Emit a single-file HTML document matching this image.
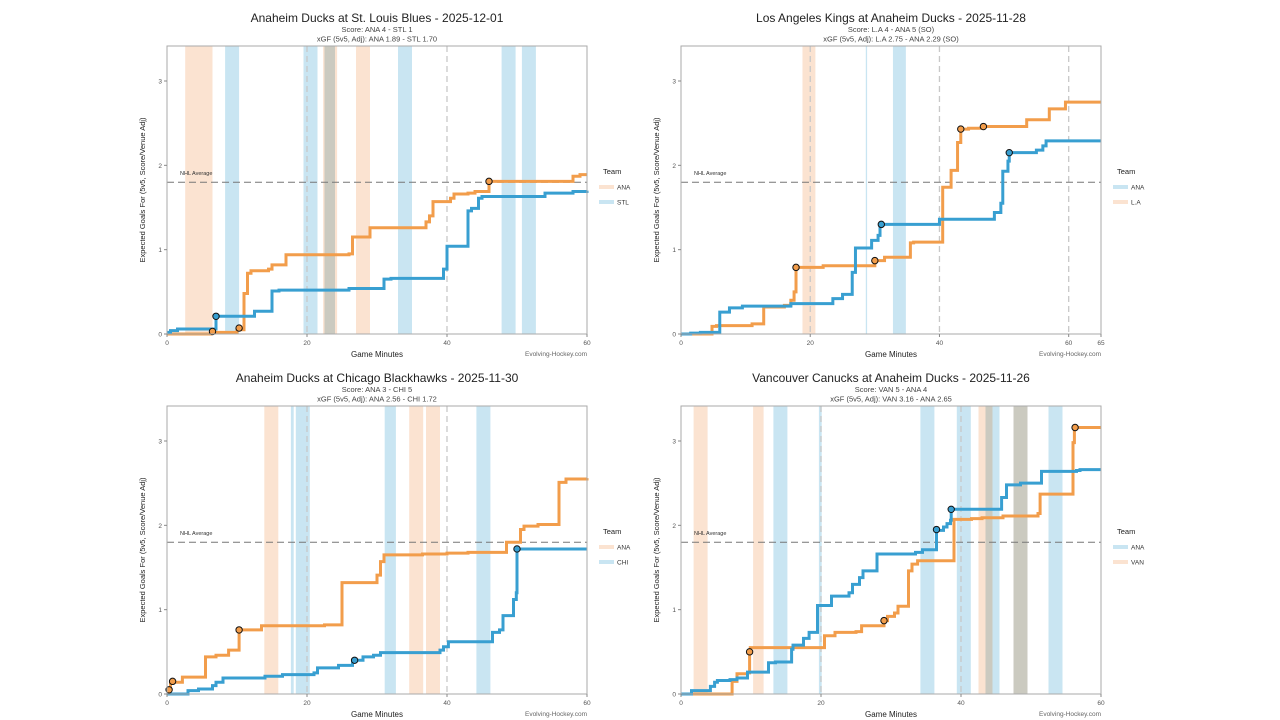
<!DOCTYPE html>
<html><head><meta charset="utf-8"><style>
body{margin:0;background:#fff;width:1280px;height:720px;overflow:hidden;font-family:"Liberation Sans","DejaVu Sans",sans-serif}
svg{position:absolute;left:0;top:0}
</style></head><body>
<svg id="chart" width="1280" height="720" xmlns="http://www.w3.org/2000/svg"></svg>
<script>
const ORANGE='#f29d4b', BLUE='#389fd1', BAND_O='#fbe3d1', BAND_B='#c9e5f2', BAND_G='#cbcac0';
// Panel 1 data
const p1_titles=['Anaheim Ducks at St. Louis Blues - 2025-12-01','Score: ANA 4 - STL 1','xGF (5v5, Adj): ANA 1.89 - STL 1.70'];
const p1_ana_t=[0,6.3,10,11,11.5,12,14.5,15,17,26,26.5,29,37,37.5,38,40.5,41,43,44,46,58,59,60];
const p1_ana_v=[0,0.02,0.05,0.48,0.72,0.75,0.77,0.82,0.94,0.95,1.15,1.26,1.33,1.40,1.57,1.61,1.66,1.67,1.69,1.81,1.87,1.89,1.89];
const p1_stl_t=[0,0.5,1.5,7,12.5,15,16,26,31,32,39.5,40,43,43.5,44.5,45,54,58,60];
const p1_stl_v=[0.02,0.04,0.06,0.21,0.27,0.51,0.52,0.54,0.65,0.66,0.77,1.04,1.46,1.49,1.61,1.63,1.67,1.69,1.70];
const p1_goal_ana=[[6.5,0.03],[10.3,0.07],[46,1.81]];
const p1_goal_stl=[[7,0.21]];
const p1_bands=[[2.6,6.5,'o'],[8.3,10.3,'b'],[19.5,21.5,'b'],[22.3,24.3,'o'],[22.5,24,'g'],[27,29,'o'],[33,35,'b'],[47.8,49.8,'b'],[50.7,52.7,'b']];
// Panel 2 data
const p2_titles=['Los Angeles Kings at Anaheim Ducks - 2025-11-28','Score: L.A 4 - ANA 5 (SO)','xGF (5v5, Adj): L.A 2.75 - ANA 2.29 (SO)'];
const p2_la_t=[0,4.8,5.5,11,12.8,16,17,17.5,17.8,22,30,31.5,35.5,36,40.5,41.8,42.8,43.3,44.5,46.8,53.5,57,59.5,65];
const p2_la_v=[0,0.09,0.10,0.12,0.32,0.34,0.40,0.50,0.79,0.81,0.87,0.91,1.08,1.09,1.74,1.94,2.27,2.43,2.44,2.46,2.54,2.67,2.75,2.75];
const p2_ana_t=[0,1.5,3,6,7.5,9.5,17,23.5,25,26.5,27,29.5,30.5,30.8,40,48.5,49.5,49.8,50.6,50.8,55,56,56.5,65];
const p2_ana_v=[0,0.01,0.02,0.26,0.31,0.33,0.36,0.42,0.47,0.73,1.02,1.11,1.17,1.30,1.36,1.44,1.55,1.93,2.05,2.15,2.18,2.23,2.29,2.29];
const p2_goal_la=[[17.8,0.79],[30,0.87],[43.3,2.43],[46.8,2.46]];
const p2_goal_ana=[[31,1.3],[50.8,2.15]];
const p2_bands=[[18.8,20.8,'o'],[28.6,28.8,'b'],[32.8,34.8,'b']];
// Panel 3 data
const p3_titles=['Anaheim Ducks at Chicago Blackhawks - 2025-11-30','Score: ANA 3 - CHI 5','xGF (5v5, Adj): ANA 2.56 - CHI 1.72'];
const p3_ana_t=[0,0.5,2.2,5.5,7,8.8,10.3,13.5,22.5,25,30,30.5,31,36.5,40,43,48.5,50.5,51,53,56,57,60];
const p3_ana_v=[0.05,0.14,0.20,0.44,0.46,0.52,0.76,0.81,0.82,1.32,1.41,1.57,1.65,1.66,1.67,1.68,1.80,1.95,1.99,2.01,2.51,2.55,2.56];
const p3_chi_t=[0,3,4.5,6.5,7,8,14,16.5,21,21.5,24.5,26.5,28,29.5,30.5,39,39.5,40.2,46.5,47.5,48,49.5,49.9,50,60];
const p3_chi_v=[0,0.04,0.06,0.10,0.14,0.19,0.21,0.23,0.25,0.31,0.34,0.40,0.44,0.46,0.49,0.52,0.56,0.62,0.73,0.76,0.93,1.12,1.20,1.72,1.72];
const p3_goal_ana=[[0.3,0.05],[0.8,0.15],[10.3,0.76]];
const p3_goal_chi=[[26.8,0.40],[50,1.72]];
const p3_bands=[[13.9,15.9,'o'],[17.7,18.1,'b'],[18.4,20.4,'b'],[31.1,32.7,'b'],[34.6,36.6,'o'],[37,39,'o'],[44.2,46.2,'b']];
// Panel 4 data
const p4_titles=['Vancouver Canucks at Anaheim Ducks - 2025-11-26','Score: VAN 5 - ANA 4','xGF (5v5, Adj): VAN 3.16 - ANA 2.65'];
const p4_van_t=[0,7.3,8,9.5,9.8,9.9,20.5,22,25,25.8,29,29.5,30.5,31,32.5,33,33.8,39,41.5,43,46,51,51.3,56,56.2,60];
const p4_van_v=[0,0.15,0.24,0.25,0.49,0.55,0.69,0.73,0.74,0.81,0.87,0.92,0.96,1.04,1.46,1.54,1.58,2.07,2.08,2.09,2.11,2.14,2.37,2.98,3.16,3.16];
const p4_ana_t=[0,1.5,4.2,4.8,5.2,7,8,9.5,12.5,13.5,15.8,16,17.5,18.3,19.5,21.5,24,24.5,25.5,26,28,33.5,34.5,36.5,37.5,38,38.5,38.6,45.8,46.5,48.5,51.5,56.5,57,60];
const p4_ana_v=[0,0.04,0.09,0.14,0.16,0.17,0.19,0.26,0.37,0.38,0.53,0.58,0.66,0.73,1.05,1.16,1.20,1.30,1.38,1.46,1.66,1.68,1.71,1.94,1.98,2.02,2.06,2.19,2.33,2.48,2.50,2.64,2.65,2.66,2.66];
const p4_goal_van=[[9.8,0.5],[29,0.87],[56.3,3.16]];
const p4_goal_ana=[[36.5,1.95],[38.6,2.19]];
const p4_bands=[[1.8,3.8,'o'],[10.3,11.8,'o'],[13.2,15.2,'b'],[19.7,20.1,'b'],[34.2,36.2,'b'],[39.4,41.4,'b'],[42.5,43.5,'o'],[43.5,44.5,'g'],[44.5,45.5,'b'],[47.5,49.5,'g'],[52.5,54.5,'b']];

const NS='http://www.w3.org/2000/svg';
const svg=document.getElementById('chart');
function mk(tag,attrs,parent){const e=document.createElementNS(NS,tag);for(const k in attrs)e.setAttribute(k,attrs[k]);(parent||svg).appendChild(e);return e;}
function txt(s,attrs,parent){const e=mk('text',attrs,parent);e.textContent=s;return e;}

function panel(id,X0,Y0,xmax,xticks,vlines,titles,bands,series,goals,legend){
  const W=420,H=288,YMAX=3.415;
  const g=mk('g',{});
  
  
  const sx=t=>X0+t/xmax*W, sy=v=>Y0+H-v/YMAX*H;
  const cx=X0+W/2;
  const t1=txt(titles[0],{x:cx,y:Y0-24,'text-anchor':'middle','font-size':12,fill:'#222'},g);
  
  const t2=txt(titles[1],{x:cx,y:Y0-14,'text-anchor':'middle','font-size':7.5,fill:'#444'},g);
  
  const t3=txt(titles[2],{x:cx,y:Y0-4.5,'text-anchor':'middle','font-size':7.5,fill:'#444'},g);
  
  for(const b of bands){
    const r=mk('rect',{x:sx(b[0]),y:Y0,width:sx(b[1])-sx(b[0]),height:H,fill:b[2]=='o'?BAND_O:b[2]=='b'?BAND_B:BAND_G},g);
    
  }
  for(const v of vlines){
    const l=mk('line',{x1:sx(v),x2:sx(v),y1:Y0,y2:Y0+H,stroke:'#c8c8c8','stroke-width':1.3,'stroke-dasharray':'6,4'},g);
    
  }
  const avg=mk('line',{x1:X0,x2:X0+W,y1:sy(1.8),y2:sy(1.8),stroke:'#777','stroke-width':1,'stroke-dasharray':'7,4'},g);
  
  const al=txt('NHL Average',{x:X0+13,y:sy(1.8)-7,'font-size':5.5,fill:'#333'},g);
  
  for(const s of series){
    let d='M'+sx(s.t[0])+','+sy(s.v[0]);
    for(let i=1;i<s.t.length;i++){d+=' H'+sx(s.t[i])+' V'+sy(s.v[i]);}
    const p=mk('path',{d:d,fill:'none',stroke:s.c,'stroke-width':3,'stroke-linejoin':'miter'},g);
    
  }
  for(const gs of goals){
    for(const pt of gs.p){
      const c=mk('circle',{cx:sx(pt[0]),cy:sy(pt[1]),r:3.2,fill:gs.c,stroke:'#111','stroke-width':1},g);
      
    }
  }
  const fr=mk('rect',{x:X0,y:Y0,width:W,height:H,fill:'none',stroke:'#aaa','stroke-width':1},g);
  
  for(const v of [0,1,2,3]){
    mk('line',{x1:X0-3,x2:X0,y1:sy(v),y2:sy(v),stroke:'#888'},g);
    const tl=txt(String(v),{x:X0-5,y:sy(v)+2.5,'text-anchor':'end','font-size':6.5,fill:'#555'},g);
    
  }
  for(const v of xticks){
    mk('line',{x1:sx(v),x2:sx(v),y1:Y0+H,y2:Y0+H+3,stroke:'#888'},g);
    const tl=txt(String(v),{x:sx(v),y:Y0+H+11,'text-anchor':'middle','font-size':6.5,fill:'#555'},g);
    
  }
  const xt=txt('Game Minutes',{x:cx,y:Y0+H+23,'text-anchor':'middle','font-size':8,fill:'#222'},g);
  
  const cr=txt('Evolving-Hockey.com',{x:X0+W,y:Y0+H+22,'text-anchor':'end','font-size':6.5,fill:'#666'},g);
  
  const yt=txt('Expected Goals For (5v5, Score/Venue Adj)',{x:0,y:0,'text-anchor':'middle','font-size':7.5,fill:'#222',transform:'translate('+(X0-22)+','+(Y0+H/2)+') rotate(-90)'},g);
  
  const lx=X0+W+12, ly=Y0+128;
  const lt=txt('Team',{x:lx+4,y:ly,'font-size':7.5,fill:'#222'},g);
  
  legend.forEach((e,i)=>{
    const yy=ly+13+i*15;
    const le=mk('g',{},g);
    
    mk('rect',{x:lx,y:yy-2,width:15,height:4,fill:e[1]},le);
    txt(e[0],{x:lx+18,y:yy+2.5,'font-size':6.5,fill:'#333'},le);
  });
}
panel('panel-ana-stl',167,46,60,[0,20,40,60],[20,40],p1_titles,p1_bands,
  [{t:p1_ana_t,v:p1_ana_v,c:ORANGE,n:'ana'},{t:p1_stl_t,v:p1_stl_v,c:BLUE,n:'stl'}],
  [{p:p1_goal_ana,c:ORANGE},{p:p1_goal_stl,c:BLUE}],[['ANA',BAND_O],['STL',BAND_B]]);
panel('panel-la-ana',681,46,65,[0,20,40,60,65],[20,40,60],p2_titles,p2_bands,
  [{t:p2_la_t,v:p2_la_v,c:ORANGE,n:'la'},{t:p2_ana_t,v:p2_ana_v,c:BLUE,n:'ana'}],
  [{p:p2_goal_la,c:ORANGE},{p:p2_goal_ana,c:BLUE}],[['ANA',BAND_B],['L.A',BAND_O]]);
panel('panel-ana-chi',167,406,60,[0,20,40,60],[20,40],p3_titles,p3_bands,
  [{t:p3_ana_t,v:p3_ana_v,c:ORANGE,n:'ana'},{t:p3_chi_t,v:p3_chi_v,c:BLUE,n:'chi'}],
  [{p:p3_goal_ana,c:ORANGE},{p:p3_goal_chi,c:BLUE}],[['ANA',BAND_O],['CHI',BAND_B]]);
panel('panel-van-ana',681,406,60,[0,20,40,60],[20,40],p4_titles,p4_bands,
  [{t:p4_van_t,v:p4_van_v,c:ORANGE,n:'van'},{t:p4_ana_t,v:p4_ana_v,c:BLUE,n:'ana'}],
  [{p:p4_goal_van,c:ORANGE},{p:p4_goal_ana,c:BLUE}],[['ANA',BAND_B],['VAN',BAND_O]]);
</script>
</body></html>
